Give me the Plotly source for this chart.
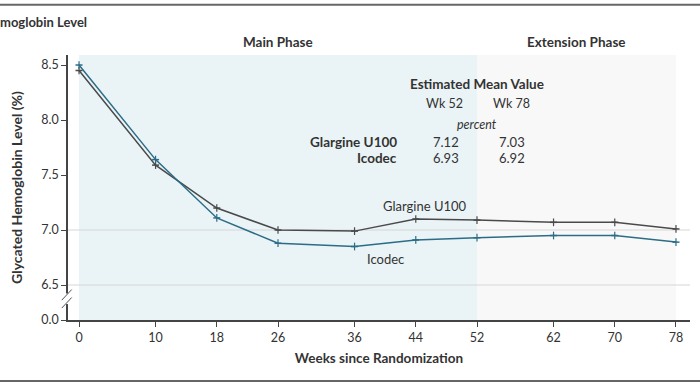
import plotly.graph_objects as go

weeks = [0, 10, 18, 26, 36, 44, 52, 62, 70, 78]
glargine = [8.45, 7.59, 7.20, 7.00, 6.99, 7.10, 7.09, 7.07, 7.07, 7.01]
icodec = [8.50, 7.64, 7.11, 6.88, 6.85, 6.91, 6.93, 6.95, 6.95, 6.89]
err = [0.035] * len(weeks)
y_tick_vals = [6.182, 6.5, 7.0, 7.5, 8.0, 8.5]
y_tick_text = ["0.0", "6.5", "7.0", "7.5", "8.0", "8.5"]

FONT = "Lato"
GREY = "#4a4a4a"
TEAL = "#2b6d87"

fig = go.Figure()
fig.add_trace(go.Scatter(x=weeks, y=glargine, mode="lines+markers",
                         line=dict(color=GREY, width=1.5),
                         marker=dict(symbol="line-ew", size=5, line=dict(color=GREY, width=1.5)),
                         error_y=dict(type="data", array=err, color=GREY, thickness=1.2, width=0),
                         showlegend=False, hoverinfo="skip"))
fig.add_trace(go.Scatter(x=weeks, y=icodec, mode="lines+markers",
                         line=dict(color=TEAL, width=1.5),
                         marker=dict(symbol="line-ew", size=5, line=dict(color=TEAL, width=1.5)),
                         error_y=dict(type="data", array=err, color=TEAL, thickness=1.2, width=0),
                         showlegend=False, hoverinfo="skip"))

shapes = [
    dict(type="rect", xref="x", yref="paper", x0=0, x1=52, y0=0, y1=1,
         fillcolor="#eaf3f6", line=dict(width=0), layer="below"),
    dict(type="rect", xref="x", yref="paper", x0=52, x1=78, y0=0, y1=1,
         fillcolor="#f8f8f8", line=dict(width=0), layer="below"),
    dict(type="line", xref="paper", yref="y", x0=0, x1=1, y0=7.0, y1=7.0,
         line=dict(color="#d6d6d6", width=1), layer="below"),
    dict(type="line", xref="paper", yref="y", x0=0, x1=1, y0=6.5, y1=6.5,
         line=dict(color="#d6d6d6", width=1), layer="below"),
    # axis break
    dict(type="rect", xref="paper", yref="paper", x0=-0.005, x1=0.005, y0=0.06, y1=0.1,
         fillcolor="white", line=dict(width=0)),
    dict(type="line", xref="paper", yref="paper", x0=-0.01, x1=0.006, y0=0.045, y1=0.085,
         line=dict(color="#555", width=1)),
    dict(type="line", xref="paper", yref="paper", x0=-0.01, x1=0.006, y0=0.075, y1=0.115,
         line=dict(color="#555", width=1)),
    # borders
    dict(type="line", xref="paper", yref="paper", x0=-0.2, x1=1.2, y0=1.19, y1=1.19,
         line=dict(color="#666", width=2)),
    dict(type="line", xref="paper", yref="paper", x0=-0.2, x1=1.2, y0=-0.23, y1=-0.23,
         line=dict(color="#666", width=2)),
]

annotations = [
    dict(text="<b>moglobin Level</b>", x=-0.112, y=1.125, xref="paper", yref="paper",
         xanchor="left", yanchor="middle", showarrow=False, font=dict(size=13)),
    dict(text="<b>Main Phase</b>", x=26, y=1.049, xref="x", yref="paper", yanchor="middle",
         showarrow=False, font=dict(size=13.5)),
    dict(text="<b>Extension Phase</b>", x=65, y=1.049, xref="x", yref="paper", yanchor="middle",
         showarrow=False, font=dict(size=13.5)),
    dict(text="Glargine U100", x=45.2, y=7.22, xref="x", yref="y", showarrow=False, font=dict(size=13)),
    dict(text="Icodec", x=40, y=6.74, xref="x", yref="y", showarrow=False, font=dict(size=13)),
    dict(text="<b>Estimated Mean Value</b>", x=52, y=8.33, xref="x", yref="y", showarrow=False,
         font=dict(size=13.5)),
    dict(text="Wk 52", x=47.8, y=8.15, xref="x", yref="y", showarrow=False, font=dict(size=12.5)),
    dict(text="Wk 78", x=56.5, y=8.15, xref="x", yref="y", showarrow=False, font=dict(size=12.5)),
    dict(text="<i>percent</i>", x=52, y=7.96, xref="x", yref="y", showarrow=False, font=dict(size=12.5)),
    dict(text="<b>Glargine U100</b>", x=41.8, y=7.80, xref="x", yref="y", showarrow=False,
         xanchor="right", font=dict(size=13.5)),
    dict(text="<b>Icodec</b>", x=41.8, y=7.655, xref="x", yref="y", showarrow=False,
         xanchor="right", font=dict(size=13.5)),
    dict(text="7.12", x=47.9, y=7.80, xref="x", yref="y", showarrow=False, font=dict(size=13)),
    dict(text="6.93", x=47.9, y=7.655, xref="x", yref="y", showarrow=False, font=dict(size=13)),
    dict(text="7.03", x=56.6, y=7.80, xref="x", yref="y", showarrow=False, font=dict(size=13)),
    dict(text="6.92", x=56.6, y=7.655, xref="x", yref="y", showarrow=False, font=dict(size=13)),
]

fig.update_layout(
    width=700, height=383,
    margin=dict(l=68, r=10, t=55, b=63, autoexpand=False),
    paper_bgcolor="white", plot_bgcolor="white",
    font=dict(family=FONT, size=12.5, color="#333"),
    shapes=shapes, annotations=annotations, hovermode=False,
    xaxis=dict(range=[-1.44, 79.83], tickvals=weeks, ticks="outside", ticklen=5,
               tickcolor="#444", showline=True, linecolor="#444", linewidth=1.5,
               showgrid=False, zeroline=False, automargin=False,
               title=dict(text="<b>Weeks since Randomization</b>", standoff=10,
                          font=dict(size=13.5, color="#333"))),
    yaxis=dict(range=[6.182, 8.591], tickvals=y_tick_vals, ticktext=y_tick_text,
               ticks="outside", ticklen=5, tickcolor="#444", showline=True,
               linecolor="#444", linewidth=1.5, showgrid=False, zeroline=False,
               automargin=False,
               title=dict(text="<b>Glycated Hemoglobin Level (%)</b>", standoff=15,
                          font=dict(size=14, color="#333"))),
)

fig.write_html("out.html", config={"displayModeBar": False},
               post_script="document.body.style.margin='0px';")
